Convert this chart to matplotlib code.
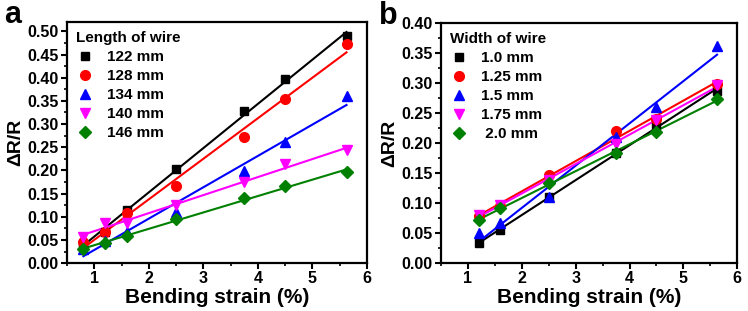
import matplotlib
matplotlib.use('Agg')
import matplotlib.pyplot as plt
from matplotlib.ticker import MultipleLocator
import numpy as np

plt.rcParams['font.family'] = ['Liberation Sans', 'DejaVu Sans']
plt.rcParams['font.weight'] = 'bold'

# panel a: length of wire
strain_a = [0.8, 1.2, 1.6, 2.5, 3.75, 4.5, 5.625]
labels_a = ['122 mm', '128 mm', '134 mm', '140 mm', '146 mm']
len_122 = [0.040, 0.068, 0.114, 0.203, 0.328, 0.397, 0.489]
len_128 = [0.045, 0.068, 0.109, 0.166, 0.272, 0.353, 0.473]
len_134 = [0.030, 0.047, 0.068, 0.111, 0.199, 0.261, 0.360]
len_140 = [0.056, 0.087, 0.087, 0.125, 0.175, 0.213, 0.244]
len_146 = [0.030, 0.043, 0.059, 0.095, 0.140, 0.166, 0.196]

# panel b: width of wire
strain_b = [1.2, 1.6, 2.5, 3.75, 4.5, 5.625]
labels_b = ['1.0 mm', '1.25 mm', '1.5 mm', '1.75 mm', ' 2.0 mm']
wid_10 = [0.033, 0.055, 0.110, 0.183, 0.230, 0.287]
wid_125 = [0.078, 0.095, 0.147, 0.220, 0.240, 0.299]
wid_15 = [0.050, 0.066, 0.110, 0.210, 0.260, 0.361]
wid_175 = [0.080, 0.097, 0.138, 0.198, 0.238, 0.297]
wid_20 = [0.072, 0.092, 0.133, 0.183, 0.218, 0.274]

colors = ['black', '#ff0000', '#0000ff', '#ff00ff', '#008000']
markers = ['s', 'o', '^', 'v', 'D']
msizes = [6, 7, 7, 7, 6]


def draw_panel(ax, x, series, labels, title, ylim, ytick, letter):
    x = np.array(x)
    for y, lab, c, m, ms in zip(series, labels, colors, markers, msizes):
        # linear fit through each series
        k, b = np.polyfit(x, y, 1)
        ax.plot(x, k * x + b, color=c, lw=1.5, zorder=2)
        ax.plot(x, y, ls='none', marker=m, color=c, ms=ms, label=lab, zorder=3)
    ax.set_xlim(0.5, 6)
    ax.set_ylim(*ylim)
    ax.xaxis.set_major_locator(MultipleLocator(1))
    ax.xaxis.set_minor_locator(MultipleLocator(0.5))
    ax.yaxis.set_major_locator(MultipleLocator(ytick))
    ax.yaxis.set_minor_locator(MultipleLocator(ytick / 2))
    ax.yaxis.set_major_formatter(matplotlib.ticker.FormatStrFormatter('%.2f'))
    ax.tick_params(which='major', direction='out', length=4, width=1.5, labelsize=11.5, pad=2)
    ax.tick_params(which='minor', direction='out', length=2.5, width=1.2)
    for s in ax.spines.values():
        s.set_linewidth(1.6)
    ax.set_xlabel('Bending strain (%)', fontsize=15, fontweight='bold', labelpad=1)
    ax.set_ylabel('\u0394R/R', fontsize=14, fontweight='bold', labelpad=2)
    leg = ax.legend(title=title, loc='upper left', frameon=False, fontsize=11,
                    title_fontproperties={'size': 11, 'weight': 'bold'},
                    handletextpad=0.8, labelspacing=0.33, borderaxespad=0.2,
                    handlelength=1.2)
    leg._legend_box.align = 'left'
    ax.text(-0.21, 1.03, letter, transform=ax.transAxes, fontsize=22,
            fontweight='bold', va='center', ha='left')


fig = plt.figure(figsize=(7.48, 3.11), dpi=100)
ax1 = fig.add_axes([0.0896, 0.154, 0.401, 0.775])
ax2 = fig.add_axes([0.5896, 0.154, 0.396, 0.772])

draw_panel(ax1, strain_a, [len_122, len_128, len_134, len_140, len_146],
           labels_a, 'Length of wire', (0, 0.52), 0.05, 'a')
draw_panel(ax2, strain_b, [wid_10, wid_125, wid_15, wid_175, wid_20],
           labels_b, 'Width of wire', (0, 0.40), 0.05, 'b')

fig.savefig('out.png', dpi=100)
